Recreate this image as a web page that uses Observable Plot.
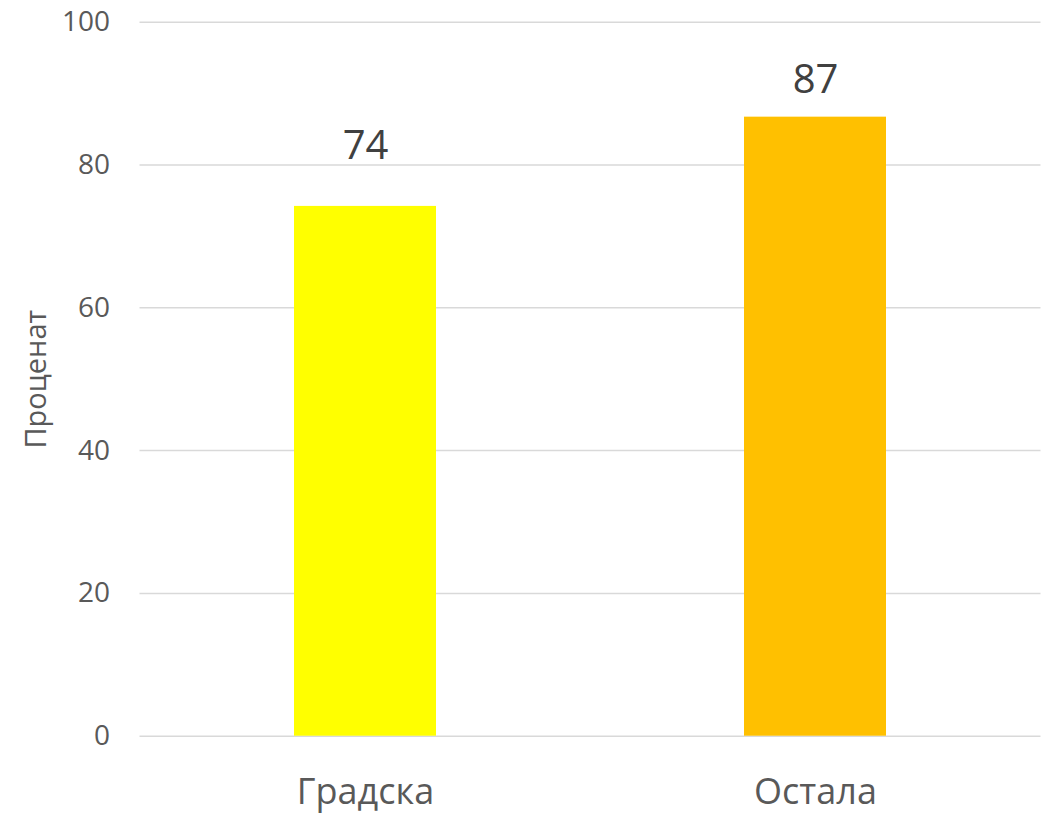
<!DOCTYPE html>
<html>
<head>
<meta charset="utf-8">
<script src="https://cdn.jsdelivr.net/npm/d3@7"></script>
<script src="https://cdn.jsdelivr.net/npm/@observablehq/plot@0.6"></script>
<style>
  html, body { margin: 0; padding: 0; background: #fff; }
  #chart svg { display: block; font-family: "Open Sans", sans-serif; }
</style>
</head>
<body>
<div id="chart"></div>
<script>
const categories = ["Градска", "Остала"];
const values = [74.2, 86.7];
const valueLabels = ["74", "87"];
const colors = ["#FFFF00", "#FFC000"];
const yTicks = [0, 20, 40, 60, 80, 100];
const yLabel = "Проценат";

const data = categories.map((c, i) => ({cat: c, value: values[i], label: valueLabels[i], color: colors[i]}));

const chart = Plot.plot({
  width: 1053,
  height: 815,
  marginLeft: 139.5,
  marginRight: 12.5,
  marginTop: 21.7,
  marginBottom: 79.3,
  style: {fontFamily: "Open Sans, sans-serif", background: "#fff"},
  x: {domain: categories, paddingInner: 0.685, paddingOuter: 0.3425, label: null},
  y: {domain: [0, 100], label: null},
  marks: [
    Plot.gridY(yTicks, {stroke: "#d9d9d9", strokeOpacity: 1, strokeWidth: 1.5}),
    Plot.axisY(yTicks, {tickSize: 0, tickPadding: 30, fontSize: 28, fill: "#595959", label: null}),
    Plot.axisX({tickSize: 0, tickPadding: 42, fontSize: 36, fill: "#595959", label: null}),
    Plot.barY(data, {x: "cat", y: "value", fill: "color"}),
    Plot.text(data.filter(d => d.cat === categories[0]), {x: "cat", y: "value", text: "label", dy: -47, lineAnchor: "bottom", fontSize: 40, fill: "#404040"}),
    Plot.text(data.filter(d => d.cat === categories[1]), {x: "cat", y: "value", text: "label", dy: -24, lineAnchor: "bottom", fontSize: 40, fill: "#404040"}),
    Plot.text([yLabel], {frameAnchor: "left", textAnchor: "middle", rotate: -90, dx: -103, text: d => d, fontSize: 29, fill: "#595959"})
  ]
});
document.getElementById("chart").appendChild(chart);
</script>
</body>
</html>
